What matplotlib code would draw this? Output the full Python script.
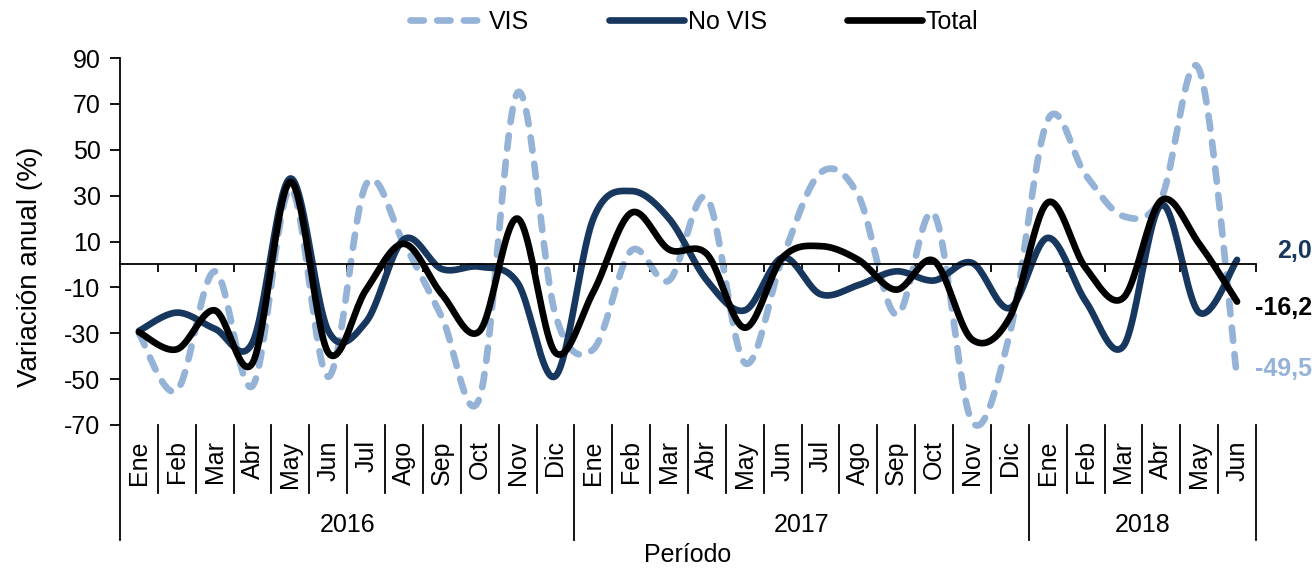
import matplotlib
matplotlib.use('Agg')
import matplotlib.pyplot as plt
import numpy as np

plt.rcParams['font.family'] = ['Liberation Sans', 'DejaVu Sans']
plt.rcParams['axes.unicode_minus'] = False

months = ['Ene', 'Feb', 'Mar', 'Abr', 'May', 'Jun', 'Jul', 'Ago', 'Sep', 'Oct', 'Nov', 'Dic',
          'Ene', 'Feb', 'Mar', 'Abr', 'May', 'Jun', 'Jul', 'Ago', 'Sep', 'Oct', 'Nov', 'Dic',
          'Ene', 'Feb', 'Mar', 'Abr', 'May', 'Jun']
years = ['2016', '2017', '2018']
year_len = [12, 12, 6]

vis = [-30, -55, -3, -53, 33, -49, 35, 9, -23, -58, 75, -22,
       -37, 6, -7, 29, -43, 3, 40, 30, -22, 22, -68.5, -30,
       63, 39, 21, 29, 85, -49.5]
no_vis = [-29, -21, -28, -34, 37.5, -29, -25, 11, -2, -1, -8, -48.7,
          20, 32, 20, -7, -20, 3, -13, -9, -3, -7, 0.7, -19,
          11.6, -16, -35.6, 26, -21, 2.0]
total = [-29.5, -37, -20, -43, 36, -38.5, -11, 9, -13, -29, 20, -38.5,
         -12, 22.5, 6.5, 4.5, -27.6, 3, 8, 2, -11, 1.5, -32.7, -23,
         27, -1.5, -14.5, 28, 9, -16.2]

c_vis = '#95B3D7'
c_novis = '#17375E'
c_total = '#000000'


def smooth(y, n=24):
    # Catmull-Rom curve through the points, like Excel's smoothed line
    y = np.asarray(y, dtype=float)
    x = np.arange(len(y), dtype=float)
    px = np.concatenate([[x[0]], x, [x[-1]]])
    py = np.concatenate([[y[0]], y, [y[-1]]])
    t = np.linspace(0, 1, n)[:-1]
    xs, ys = [], []
    for i in range(1, len(px) - 2):
        for p, out in ((px, xs), (py, ys)):
            p0, p1, p2, p3 = p[i - 1], p[i], p[i + 1], p[i + 2]
            out.append(0.5 * (2 * p1 + (-p0 + p2) * t + (2 * p0 - 5 * p1 + 4 * p2 - p3) * t ** 2
                              + (-p0 + 3 * p1 - 3 * p2 + p3) * t ** 3))
    xs.append([x[-1]])
    ys.append([y[-1]])
    return np.concatenate(xs), np.concatenate(ys)


fs = 18
fig = plt.figure(figsize=(13.12, 5.69), dpi=100)
ax = fig.add_axes([120 / 1312, 1 - 425 / 569, 1136 / 1312, 367 / 569])

lw = 4.8
xv, yv = smooth(vis)
l1, = ax.plot(xv, yv, color=c_vis, lw=lw, label='VIS', dash_capstyle='round',
              solid_capstyle='round', clip_on=False)
l1.set_dashes([2.0, 2.0])
xn, yn = smooth(no_vis)
ax.plot(xn, yn, color=c_novis, lw=lw, label='No VIS', solid_capstyle='round', clip_on=False)
xt, yt = smooth(total)
ax.plot(xt, yt, color=c_total, lw=lw, label='Total', solid_capstyle='round', clip_on=False)

n = len(months)
ax.set_xlim(-0.5, n - 0.5)
ax.set_ylim(-70, 90)
ax.set_yticks(np.arange(-70, 91, 20))
ax.tick_params(axis='y', labelsize=fs, length=7, width=1.3, pad=7, direction='out')

for s in ['top', 'right', 'left']:
    ax.spines[s].set_visible(False)
ax.spines['bottom'].set_position(('data', 0))
ax.spines['bottom'].set_linewidth(1.3)
ax.set_xticks(np.arange(0.5, n, 1))
ax.set_xticklabels([])
ax.tick_params(axis='x', length=6, width=1.3, direction='out')

# y axis line reaching down through the category labels
ax.plot([-0.5, -0.5], [1, -0.313], transform=ax.get_xaxis_transform(), color='black', lw=1.3,
        clip_on=False)

# month labels and separators
trans = ax.get_xaxis_transform()
year_ends = np.cumsum(year_len) - 0.5
for i, m in enumerate(months):
    ax.text(i, -0.042, m, rotation=90, ha='center', va='top', fontsize=fs, transform=trans)
for b in np.arange(0.5, n, 1):
    bottom = -0.313 if b in year_ends else -0.1845
    ax.plot([b, b], [0, bottom], transform=trans, color='black', lw=1.3, clip_on=False)

start = -0.5
for yr, ln in zip(years, year_len):
    ax.text(start + ln / 2, -0.2725, yr, ha='center', va='center', fontsize=fs, transform=trans)
    start += ln

# last values
ax.text(30.97, 5.8, '2,0', ha='right', va='center', fontsize=fs, fontweight='bold', color=c_novis)
ax.text(30.97, -19, '-16,2', ha='right', va='center', fontsize=fs, fontweight='bold', color=c_total)
ax.text(30.97, -45.6, '-49,5', ha='right', va='center', fontsize=fs, fontweight='bold', color=c_vis)

fig.text(30 / 1312, 1 - 267 / 569, 'Variación anual (%)', rotation=90, ha='center', va='center',
         fontsize=20)
fig.text(688 / 1312, 1 - 555 / 569, 'Período', ha='center', va='center', fontsize=fs)

fig.legend(loc='center', bbox_to_anchor=(694 / 1312, 1 - 22 / 569), ncol=3, frameon=False,
           fontsize=fs, handlelength=3.0, handletextpad=0.15, columnspacing=3.2)

fig.savefig('out.png', dpi=100)
